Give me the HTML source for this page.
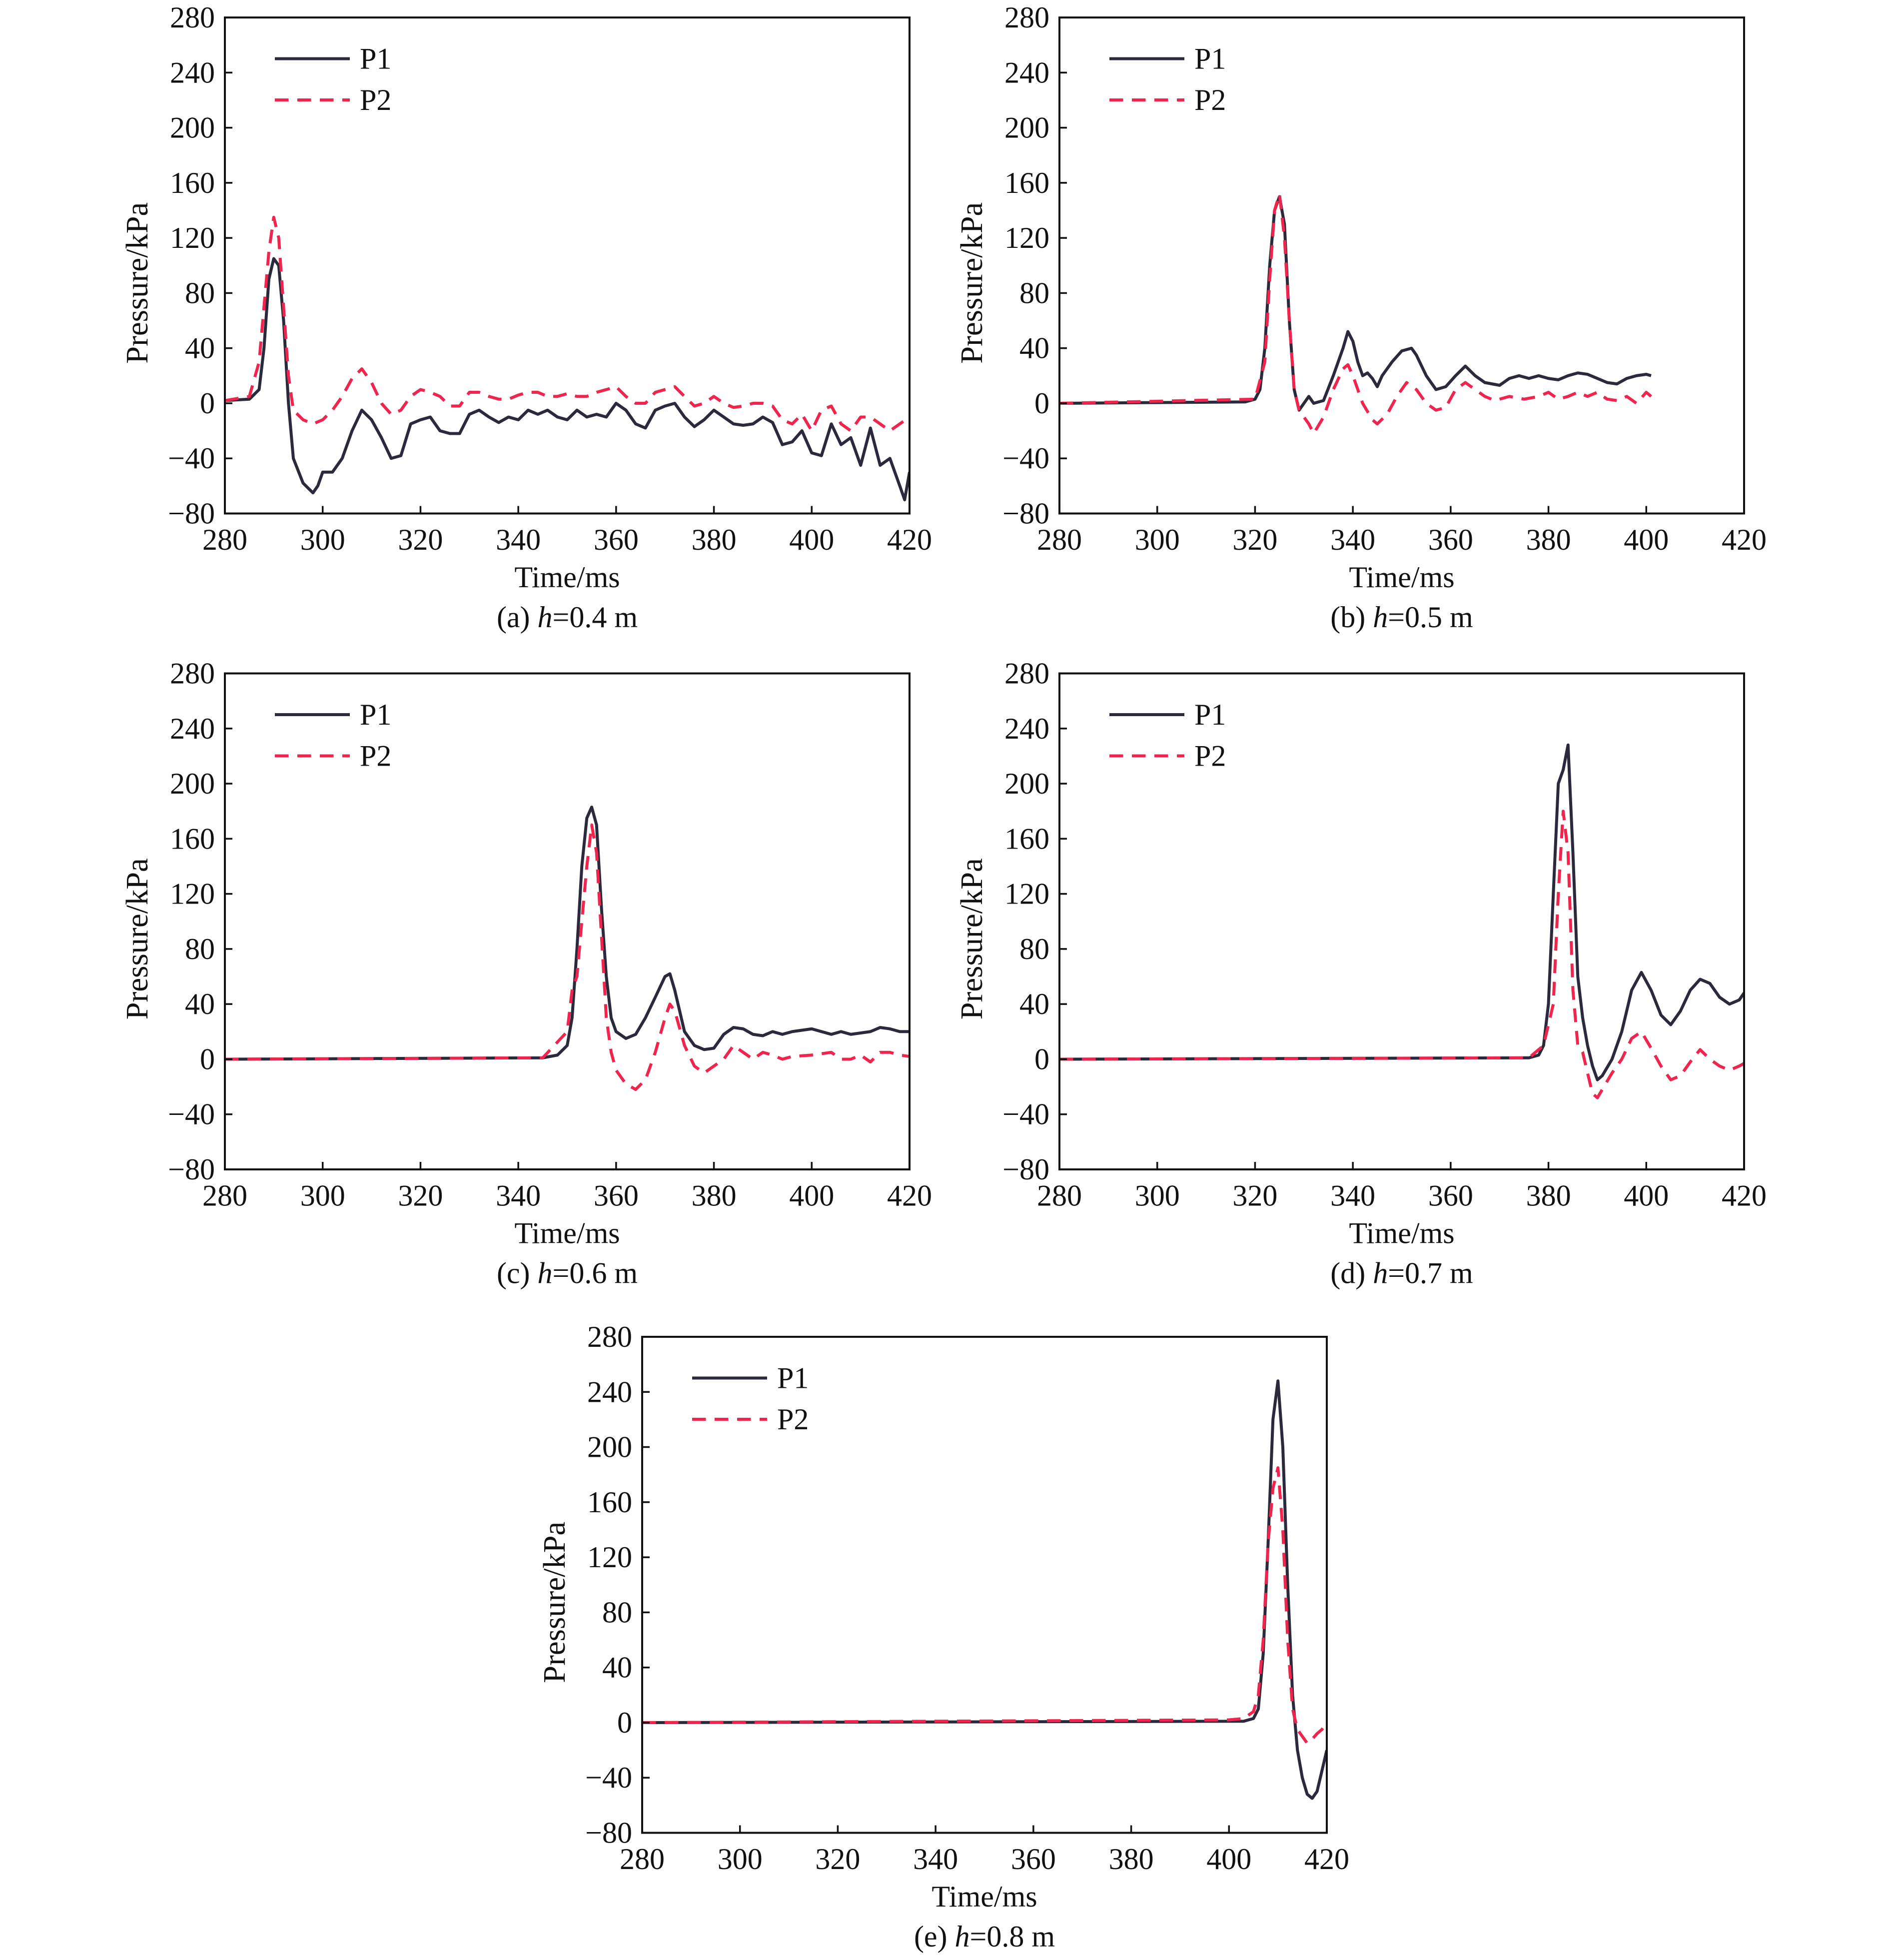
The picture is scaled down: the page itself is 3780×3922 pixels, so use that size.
<!DOCTYPE html>
<html><head><meta charset="utf-8"><style>
html,body{margin:0;padding:0;background:#fff}
svg text{font-family:"Liberation Serif",serif;fill:#111}
</style></head><body>
<svg id="fig" width="3780" height="3917" viewBox="0 0 1512 1566.8" xmlns="http://www.w3.org/2000/svg"></svg>
<script>
const xTicks=[280,300,320,340,360,380,400,420];
const yTicks=[-80,-40,0,40,80,120,160,200,240,280];
const captions=["h=0.4 m","h=0.5 m","h=0.6 m","h=0.7 m","h=0.8 m"];
const captionPrefix=["(a)","(b)","(c)","(d)","(e)"];
const aP1=[[280,2],[285,3],[287,10],[288,40],[289,90],[290,105],[291,100],[292,60],[293,0],[294,-40],[296,-58],[298,-65],[299,-60],[300,-50],[302,-50],[304,-40],[306,-20],[308,-5],[310,-12],[312,-25],[314,-40],[316,-38],[318,-15],[320,-12],[322,-10],[324,-20],[326,-22],[328,-22],[330,-8],[332,-5],[334,-10],[336,-14],[338,-10],[340,-12],[342,-5],[344,-8],[346,-5],[348,-10],[350,-12],[352,-5],[354,-10],[356,-8],[358,-10],[360,0],[362,-5],[364,-15],[366,-18],[368,-5],[370,-2],[372,0],[374,-10],[376,-17],[378,-12],[380,-5],[382,-10],[384,-15],[386,-16],[388,-15],[390,-10],[392,-14],[394,-30],[396,-28],[398,-20],[400,-36],[402,-38],[404,-15],[406,-30],[408,-25],[410,-45],[412,-18],[414,-45],[416,-40],[418,-60],[419,-70],[420,-50]];
const aP2=[[280,2],[285,5],[287,30],[288,70],[289,110],[290,135],[291,120],[292,70],[293,20],[294,-5],[296,-12],[298,-15],[300,-12],[302,-5],[304,5],[306,18],[308,25],[310,15],[312,0],[314,-8],[316,-5],[318,5],[320,10],[322,8],[324,5],[326,-2],[328,-2],[330,8],[332,8],[334,5],[336,3],[338,3],[340,6],[342,8],[344,8],[346,5],[348,5],[350,7],[352,5],[354,5],[356,8],[358,10],[360,12],[362,5],[364,0],[366,0],[368,8],[370,10],[372,12],[374,5],[376,-2],[378,0],[380,5],[382,0],[384,-3],[386,-2],[388,0],[390,0],[392,-2],[394,-12],[396,-15],[398,-8],[400,-20],[402,-5],[404,-2],[406,-15],[408,-20],[410,-10],[412,-10],[414,-15],[416,-20],[418,-15],[420,-10]];
const bP1=[[280,0],[318,1],[320,3],[321,10],[322,40],[323,100],[324,140],[325,150],[326,130],[327,60],[328,10],[329,-5],[330,0],[331,5],[332,0],[334,2],[336,20],[338,40],[339,52],[340,45],[341,30],[342,20],[343,22],[344,18],[345,12],[346,20],[348,30],[350,38],[352,40],[353,35],[355,20],[357,10],[359,12],[361,20],[363,27],[365,20],[367,15],[370,13],[372,18],[374,20],[376,18],[378,20],[380,18],[382,17],[384,20],[386,22],[388,21],[390,18],[392,15],[394,14],[396,18],[398,20],[400,21],[401,20]];
const bP2=[[280,0],[320,3],[322,30],[323,90],[324,140],[325,152],[326,120],[327,60],[328,10],[329,-5],[330,-10],[331,-15],[332,-22],[334,-10],[336,10],[338,25],[339,28],[340,20],[342,0],[344,-12],[345,-15],[347,-8],[349,5],[351,15],[353,10],[355,0],[357,-5],[359,-3],[361,10],[363,15],[365,10],[367,5],[369,2],[372,5],[375,3],[378,5],[380,8],[382,3],[384,5],[386,8],[388,5],[390,8],[392,3],[394,2],[396,5],[398,0],[400,8],[401,5]];
const cP1=[[280,0],[345,1],[348,3],[350,10],[351,30],[352,80],[353,140],[354,175],[355,183],[356,170],[357,110],[358,60],[359,30],[360,20],[362,15],[364,18],[366,30],[368,45],[370,60],[371,62],[372,50],[374,20],[376,10],[378,7],[380,8],[382,18],[384,23],[386,22],[388,18],[390,17],[392,20],[394,18],[396,20],[398,21],[400,22],[402,20],[404,18],[406,20],[408,18],[410,19],[412,20],[414,23],[416,22],[418,20],[420,20]];
const cP2=[[280,0],[345,1],[350,20],[351,50],[352,60],[353,100],[354,140],[355,170],[356,150],[357,90],[358,30],[359,5],[360,-8],[362,-18],[364,-22],[366,-15],[368,5],[370,30],[371,40],[372,35],[374,10],[376,-5],[378,-10],[380,-5],[382,0],[384,10],[386,5],[388,0],[390,5],[392,3],[394,0],[396,2],[400,3],[404,5],[406,0],[408,0],[410,3],[412,-2],[414,5],[416,5],[418,3],[420,2]];
const dP1=[[280,0],[376,1],[378,3],[379,10],[380,40],[381,120],[382,200],[383,210],[384,228],[385,150],[386,60],[387,30],[388,10],[389,-5],[390,-15],[391,-12],[393,0],[395,20],[397,50],[399,63],[401,50],[403,32],[405,25],[407,35],[409,50],[411,58],[413,55],[415,45],[417,40],[419,43],[420,48]];
const dP2=[[280,0],[376,1],[379,10],[380,25],[381,40],[382,120],[383,180],[384,150],[385,50],[386,10],[387,5],[388,-10],[389,-25],[390,-28],[391,-22],[393,-10],[395,0],[397,15],[399,20],[401,8],[403,-5],[405,-15],[407,-12],[409,-2],[411,7],[413,0],[415,-5],[417,-8],[419,-5],[420,-3]];
const eP1=[[280,0],[403,1],[405,3],[406,10],[407,50],[408,130],[409,220],[410,248],[411,200],[412,100],[413,20],[414,-20],[415,-40],[416,-52],[417,-55],[418,-50],[419,-35],[420,-20]];
const eP2=[[280,0],[400,2],[403,3],[405,8],[406,20],[407,60],[408,130],[409,170],[410,185],[411,140],[412,60],[413,10],[414,-5],[415,-10],[416,-15],[417,-12],[418,-8],[419,-5],[420,0]];
const panelSeries=[[aP1,aP2],[bP1,bP2],[cP1,cP2],[dP1,dP2],[eP1,eP2]];
const panelBoxes=[[180,14],[848,14],[180,539],[848,539],[514,1070]];
const W=548,H=397,NS="http://www.w3.org/2000/svg";
const svg=document.getElementById('fig');
function mk(tag,attrs,parent,txt){const e=document.createElementNS(NS,tag);for(const k in attrs)e.setAttribute(k,attrs[k]);if(txt!==undefined)e.textContent=txt;parent.appendChild(e);return e;}
panelBoxes.forEach((b,i)=>{
  const [L,T]=b;
  const g=mk('g',{},svg);
  
  
  const sx=v=>L+(v-280)/140*W, sy=v=>T+H-(v+80)/360*H;
  const clipId='clip'+i;
  const cp=mk('clipPath',{id:clipId},g);mk('rect',{x:L,y:T,width:W,height:H},cp);
  const cols=['#2b2a3c','#f0254e'];
  panelSeries[i].forEach((s,j)=>{
    const d=s.map((p,k)=>(k?'L':'M')+sx(p[0]).toFixed(1)+','+sy(p[1]).toFixed(1)).join('');
    const a={d:d,fill:'none',stroke:cols[j],'stroke-width':2.4,'stroke-linejoin':'round','clip-path':'url(#'+clipId+')'};
    if(j==1)a['stroke-dasharray']='11,7';
    const p=mk('path',a,g);
    
    
  });
  const fr=mk('rect',{x:L,y:T,width:W,height:H,fill:'none',stroke:'#111','stroke-width':1.6},g);
  
  
  xTicks.forEach(v=>{
    mk('line',{x1:sx(v),x2:sx(v),y1:T+H,y2:T+H-6,stroke:'#111','stroke-width':1.4},g);
    const t=mk('text',{x:sx(v),y:T+H+29,'font-size':24,'text-anchor':'middle'},g,v);
    
    
  });
  yTicks.forEach(v=>{
    mk('line',{x1:L,x2:L+6,y1:sy(v),y2:sy(v),stroke:'#111','stroke-width':1.4},g);
    const t=mk('text',{x:L-8,y:sy(v)+8,'font-size':24,'text-anchor':'end'},g,v<0?'\u2212'+(-v):v);
    
    
  });
  const xt=mk('text',{x:L+W/2,y:T+H+59,'font-size':24,'text-anchor':'middle'},g,'Time/ms');
  
  
  const yt=mk('text',{x:0,y:0,'font-size':25,'text-anchor':'middle',transform:'translate('+(L-62)+','+(T+H/2+14)+') rotate(-90)'},g,'Pressure/kPa');
  
  
  const cap=mk('text',{x:L+W/2,y:T+H+91,'font-size':24,'text-anchor':'middle'},g);
  
  
  mk('tspan',{},cap,captionPrefix[i]+' ');
  mk('tspan',{'font-style':'italic'},cap,'h');
  mk('tspan',{},cap,captions[i].slice(1));
  ['P1','P2'].forEach((n,j)=>{
    const y=T+33+j*33;
    const a={x1:L+40,x2:L+100,y1:y,y2:y,stroke:cols[j],'stroke-width':2.4};
    if(j)a['stroke-dasharray']='11,7';
    const l=mk('line',a,g);
    
    
    const t=mk('text',{x:L+108,y:y+8,'font-size':24},g,n);
    
    
  });
});
</script>
</body></html>
